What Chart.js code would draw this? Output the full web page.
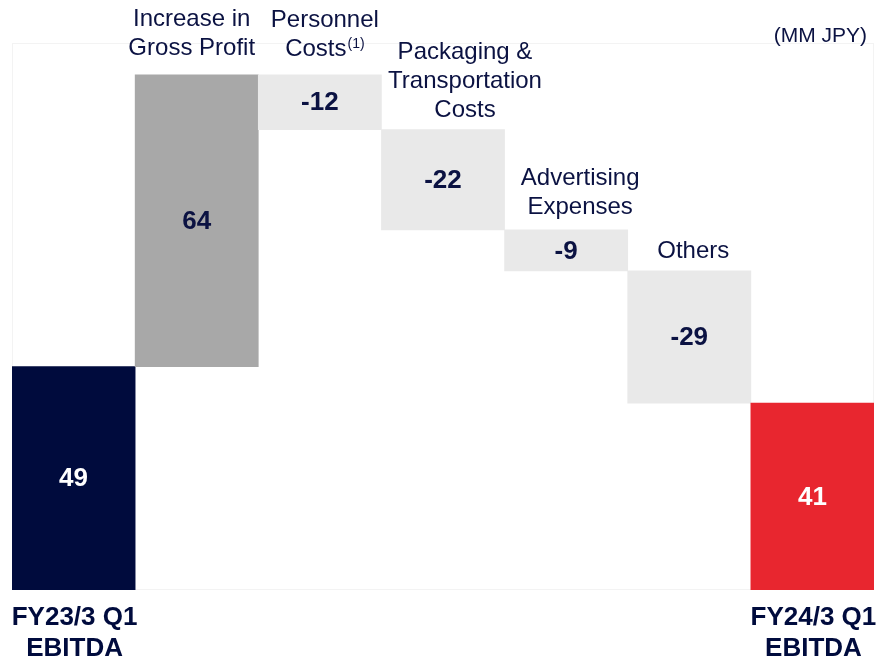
<!DOCTYPE html>
<html lang="en">
<head>
    <meta charset="UTF-8">
    <title>EBITDA Bridge</title>
    <script src="https://cdn.jsdelivr.net/npm/chart.js"></script>
    <style>
        body {
            margin: 0;
            padding: 0;
            background-color: #ffffff;
        }
        #chart-container {
            width: 878px;
            height: 659px;
        }
    </style>
</head>
<body>
    <div id="chart-container">
        <canvas id="myChart"></canvas>
    </div>

    <script>
        // chart data
        const categories = ['FY23/3 Q1 EBITDA', 'Increase in Gross Profit', 'Personnel Costs', 'Packaging & Transportation Costs', 'Advertising Expenses', 'Others', 'FY24/3 Q1 EBITDA'];
        const changes = [49, 64, -12, -22, -9, -29, 41];
        const isTotal = [true, false, false, false, false, false, true];
        const topLabels = [null, ['Increase in', 'Gross Profit'], ['Personnel', 'Costs'], ['Packaging &', 'Transportation', 'Costs'], ['Advertising', 'Expenses'], ['Others'], null];
        const superscripts = [null, null, '(1)', null, null, null, null];
        const bottomLabels = [['FY23/3 Q1', 'EBITDA'], null, null, null, null, null, ['FY24/3 Q1', 'EBITDA']];
        const unitLabel = '(MM JPY)';

        // colours
        const NAVY = '#000b3d';
        const TEXT = '#0b1242';
        const barColors = [NAVY, '#a8a8a8', '#e9e9e9', '#e9e9e9', '#e9e9e9', '#e9e9e9', '#e8262f'];
        const valueColors = ['#ffffff', TEXT, TEXT, TEXT, TEXT, TEXT, '#ffffff'];
        const FONT = "'Liberation Sans', Arial, sans-serif";

        // floating bars for the waterfall
        let running = 0;
        const ranges = changes.map((v, i) => {
            if (isTotal[i]) {
                running = v;
                return [0, v];
            }
            const start = running;
            running += v;
            return [start, running];
        });

        const labelPlugin = {
            id: 'labelPlugin',
            beforeDraw(chart) {
                // faint outline of the plot area
                const { ctx, chartArea } = chart;
                ctx.save();
                ctx.strokeStyle = '#f3f3f3';
                ctx.lineWidth = 1;
                ctx.strokeRect(chartArea.left + 0.5, chartArea.top + 0.5, chartArea.right - chartArea.left - 1, chartArea.bottom - chartArea.top - 1);
                ctx.restore();
            },
            afterDatasetsDraw(chart, args, opts) {
                const { ctx, chartArea } = chart;
                const bars = chart.getDatasetMeta(0).data;
                ctx.save();
                ctx.textBaseline = 'alphabetic';

                bars.forEach((bar, i) => {
                    const top = Math.min(bar.y, bar.base);
                    const bottom = Math.max(bar.y, bar.base);

                    // value in the middle of the bar
                    ctx.font = 'bold 26px ' + FONT;
                    ctx.fillStyle = valueColors[i];
                    ctx.textAlign = 'center';
                    ctx.textBaseline = 'middle';
                    ctx.fillText(String(changes[i]), bar.x, (top + bottom) / 2 + 1);
                    ctx.textBaseline = 'alphabetic';

                    // category above the bar
                    const lines = topLabels[i];
                    if (lines) {
                        ctx.fillStyle = TEXT;
                        const cx = bar.x + opts.labelShift[i];
                        const lastBase = top - opts.labelGap[i];
                        lines.forEach((line, j) => {
                            const y = lastBase - (lines.length - 1 - j) * opts.lineHeight;
                            const sup = (j === lines.length - 1) ? superscripts[i] : null;
                            ctx.font = '24px ' + FONT;
                            if (sup) {
                                const w1 = ctx.measureText(line).width;
                                ctx.font = '14px ' + FONT;
                                const w2 = ctx.measureText(sup).width;
                                const x0 = cx - (w1 + w2 + 1) / 2;
                                ctx.textAlign = 'left';
                                ctx.font = '24px ' + FONT;
                                ctx.fillText(line, x0, y);
                                ctx.font = '14px ' + FONT;
                                ctx.fillText(sup, x0 + w1 + 1, y - 8);
                            } else {
                                ctx.textAlign = 'center';
                                ctx.fillText(line, cx, y);
                            }
                        });
                    }

                    // bold label under the totals
                    const under = bottomLabels[i];
                    if (under) {
                        ctx.font = 'bold 26px ' + FONT;
                        ctx.fillStyle = NAVY;
                        ctx.textAlign = 'center';
                        under.forEach((line, j) => {
                            ctx.fillText(line, bar.x + 1, chartArea.bottom + 35 + j * 31);
                        });
                    }
                });

                ctx.font = '21px ' + FONT;
                ctx.fillStyle = TEXT;
                ctx.textAlign = 'right';
                ctx.fillText(unitLabel, 867, 42);
                ctx.restore();
            }
        };

        const ctx = document.getElementById('myChart').getContext('2d');
        const myChart = new Chart(ctx, {
            type: 'bar',
            data: {
                labels: categories,
                datasets: [{
                    data: ranges,
                    backgroundColor: barColors,
                    borderWidth: 0,
                    borderSkipped: false,
                    categoryPercentage: 1.0,
                    barPercentage: 1.0,
                }],
            },
            options: {
                responsive: true,
                maintainAspectRatio: false,
                animation: false,
                layout: {
                    padding: { left: 12, right: 4, top: 43, bottom: 69 },
                },
                scales: {
                    x: { display: false },
                    y: { display: false, min: 0, max: 120 },
                },
                plugins: {
                    legend: { display: false },
                    tooltip: { enabled: false },
                    labelPlugin: {
                        labelGap: [0, 20, 19, 13, 16, 13, 0],
                        lineHeight: 29,
                        labelShift: [0, -5, 5, 22, 14, 4, 0],
                    },
                },
            },
            plugins: [labelPlugin],
        });
    </script>
</body>
</html>
